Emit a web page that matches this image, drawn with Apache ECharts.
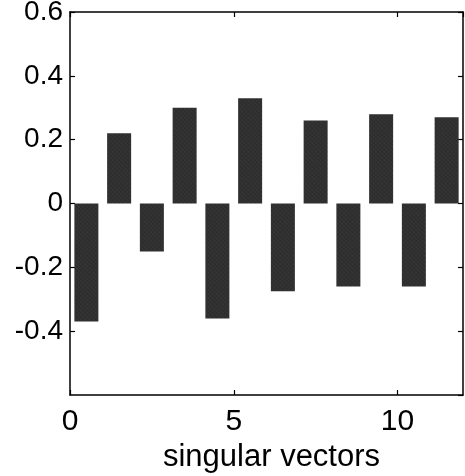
<!DOCTYPE html>
<html><head><meta charset="utf-8">
<script src="https://cdn.jsdelivr.net/npm/echarts@6/dist/echarts.min.js"></script>
<style>html,body{margin:0;padding:0;background:#fff}#c{width:465px;height:476px}</style>
</head><body><div id="c"></div>
<script>
const positions = [0.5, 1.5, 2.5, 3.5, 4.5, 5.5, 6.5, 7.5, 8.5, 9.5, 10.5, 11.5];
const values = [-0.37, 0.22, -0.15, 0.30, -0.36, 0.33, -0.275, 0.26, -0.26, 0.28, -0.26, 0.27];
const xTicks = [0, 5, 10];
const yTicks = [-0.4, -0.2, 0, 0.2, 0.4, 0.6];
const xTitle = 'singular vectors';

const font = 'Liberation Sans, Arial, sans-serif';
const chart = echarts.init(document.getElementById('c'), null, {renderer: 'canvas'});
const lineStyle = {color: '#000', width: 1.5};
const axisLine = {show: true, onZero: false, lineStyle: lineStyle};
const tickStyle = {show: true, inside: true, length: 5, lineStyle: {color: '#000', width: 1.2}};
chart.setOption({
  animation: false,
  grid: {left: 70, right: 2, top: 12, bottom: 81, containLabel: false, outerBoundsMode: 'none'},
  xAxis: [{
    type: 'value', min: 0, max: 12, interval: 5, position: 'bottom',
    name: xTitle, nameLocation: 'middle', nameGap: 45,
    nameTextStyle: {fontFamily: font, fontSize: 31, color: '#000', padding: [0, 0, 0, 10]},
    axisLine: axisLine,
    axisTick: tickStyle,
    splitLine: {show: false},
    axisLabel: {fontFamily: font, fontSize: 30, color: '#000', margin: 12, showMaxLabel: false,
      formatter: v => xTicks.includes(v) ? String(v) : ''}
  }, {
    type: 'value', min: 0, max: 12, interval: 5, position: 'top',
    axisLine: axisLine,
    axisTick: tickStyle, axisLabel: {show: false}, splitLine: {show: false}
  }],
  yAxis: [{
    type: 'value', min: -0.6, max: 0.6, interval: 0.2, position: 'left',
    axisLine: axisLine,
    axisTick: tickStyle, splitLine: {show: false},
    axisLabel: {fontFamily: font, fontSize: 28, color: '#000', margin: 7, showMinLabel: false,
      formatter: v => { const r = Math.round(v * 10) / 10; return yTicks.includes(r) ? String(r) : ''; }}
  }, {
    type: 'value', min: -0.6, max: 0.6, interval: 0.2, position: 'right',
    axisLine: axisLine,
    axisTick: tickStyle, axisLabel: {show: false}, splitLine: {show: false}
  }],
  series: [{
    type: 'bar', xAxisIndex: 0, yAxisIndex: 0, barWidth: 24,
    data: positions.map((x, i) => [x, values[i]]),
    itemStyle: {color: '#2e2e2e', decal: {
      symbol: 'circle', symbolSize: 0.6, color: 'rgba(255,255,255,0.45)',
      dashArrayX: [2, 1], dashArrayY: [1, 2], rotation: Math.PI / 4
    }}
  }]
});
</script></body></html>
